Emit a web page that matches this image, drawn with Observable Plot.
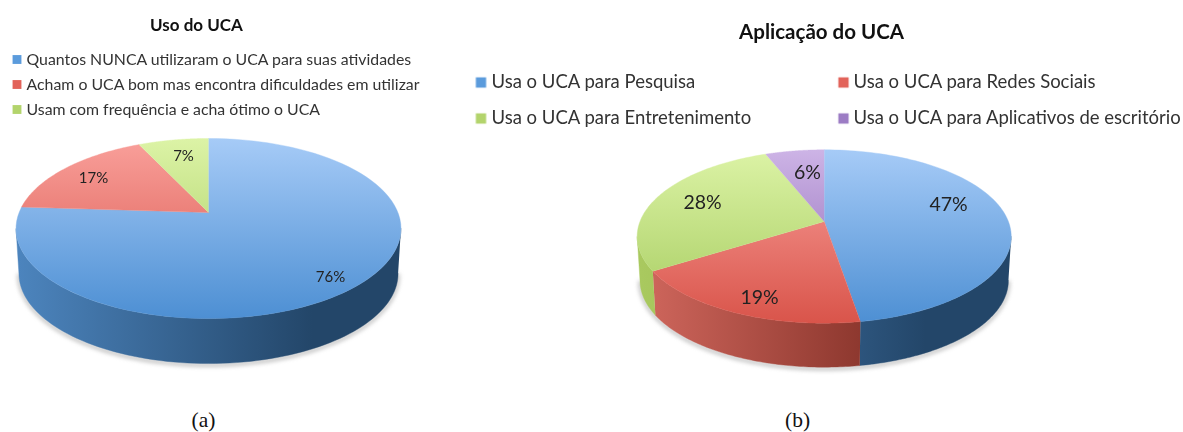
<!DOCTYPE html>
<html>
<head>
<meta charset="utf-8">
<script src="https://cdn.jsdelivr.net/npm/d3@7"></script>
<script src="https://cdn.jsdelivr.net/npm/@observablehq/plot@0.6"></script>
<style>html,body{margin:0;padding:0;background:#fff}svg{display:block}</style>
</head>
<body>
<div id="chart"></div>
<script>
// --- data ---
const titleA = "Uso do UCA";
const categoriesA = [
  "Quantos NUNCA utilizaram o UCA para suas atividades",
  "Acham o UCA bom mas encontra dificuldades em utilizar",
  "Usam com frequência e acha ótimo o UCA"
];
const valuesA = [76, 17, 7];
const colorsA = ["blue", "red", "green"];

const titleB = "Aplicação do UCA";
const categoriesB = [
  "Usa o UCA para Pesquisa",
  "Usa o UCA para Redes Sociais",
  "Usa o UCA para Entretenimento",
  "Usa o UCA para Aplicativos de escritório"
];
const valuesB = [47.4, 18.6, 28, 6];
const colorsB = ["blue", "red", "green", "purple"];

// --- styles ---
const palette = {
  blue:   {top: "#a6cbf7", bottom: "#4d8fd3", wallL: "#4c84bd", wallR: "#234669", swatch: "#5b9bdc"},
  red:    {top: "#f9a09b", bottom: "#d9544a", wallL: "#d0675d", wallR: "#7a2a21", swatch: "#e2635a"},
  green:  {top: "#dcf3a6", bottom: "#a5cb5e", wallL: "#a9c95f", wallR: "#86a644", swatch: "#b3d46c"},
  purple: {top: "#cdb4e6", bottom: "#8a62b2", wallL: "#8a62b2", wallR: "#6a4890", swatch: "#9c7cc4"}
};
const font = "Lato, 'Open Sans', sans-serif";

// --- layout (perspective ellipse of each pie) ---
const pieA = {id: "a", cx: 208, cy: 212, A: 189.4, a: 87.2, k: 0.178, depth: 45, shrink: 0.985, top: 138, bottom: 318};
const pieB = {id: "b", cx: 823.7, cy: 221, A: 184.2, a: 84.1, k: 0.173, depth: 44, shrink: 0.985, top: 149, bottom: 323};

const project = (p, share) => {
  const t = share * 2 * Math.PI;
  const u = Math.sin(t), v = Math.cos(t), d = 1 + p.k * v;
  return [p.cx + p.A * u / d, p.cy - p.a * v / d];
};
const lower = (p, q) => [p.cx + (q[0] - p.cx) * p.shrink, q[1] + p.depth];
const rightShare = p => 0.25 + Math.asin(p.k) / (2 * Math.PI);
const leftShare = p => 1 - rightShare(p);
const range = (a, b) => d3.range(0, 91).map(i => a + (b - a) * i / 90);

function slices(p, values, colors) {
  const total = d3.sum(values);
  let acc = 0;
  const faces = [], walls = [];
  values.forEach((v, i) => {
    const s0 = acc / total, s1 = (acc + v) / total;
    acc += v;
    const c = colors[i];
    faces.push({fill: `url(#face-${p.id}-${c})`, points: [[p.cx, p.cy], ...range(s0, s1).map(s => project(p, s))]});
    const w0 = Math.max(s0, rightShare(p)), w1 = Math.min(s1, leftShare(p));
    if (w1 > w0) {
      const arc = range(w0, w1).map(s => project(p, s));
      walls.push({
        fill: `url(#wall-${p.id}-${c})`, color: c, arc,
        points: [...arc, ...arc.slice().reverse().map(q => lower(p, q))]
      });
    }
  });
  return {faces, walls};
}

function defsMark(pies) {
  return () => {
    const defs = d3.create("svg:defs");
    for (const p of pies) {
      for (const [name, c] of Object.entries(palette)) {
        const f = defs.append("linearGradient").attr("id", `face-${p.id}-${name}`)
          .attr("gradientUnits", "userSpaceOnUse")
          .attr("x1", 0).attr("x2", 0).attr("y1", p.top).attr("y2", p.bottom);
        f.append("stop").attr("offset", 0).attr("stop-color", c.top);
        f.append("stop").attr("offset", 1).attr("stop-color", c.bottom);
        const w = defs.append("linearGradient").attr("id", `wall-${p.id}-${name}`)
          .attr("gradientUnits", "userSpaceOnUse")
          .attr("y1", 0).attr("y2", 0).attr("x1", p.cx - p.A).attr("x2", p.cx + p.A * 0.55);
        w.append("stop").attr("offset", 0).attr("stop-color", c.wallL);
        w.append("stop").attr("offset", 1).attr("stop-color", c.wallR);
      }
    }
    return defs.node();
  };
}

function pieMarks(p, values, colors) {
  const {faces, walls} = slices(p, values, colors);
  const marks = [];
  const shadow = range(rightShare(p), leftShare(p)).map(s => lower(p, project(p, s)));
  marks.push(Plot.line(shadow, {x: d => d[0], y: d => d[1] + 1.5, stroke: "#777", strokeWidth: 3, strokeOpacity: 0.55, imageFilter: "blur(2px)"}));
  for (const w of walls) marks.push(Plot.line(w.points, {x: d => d[0], y: d => d[1], fill: w.fill, stroke: w.fill, strokeWidth: 0.4}));
  for (const f of faces) marks.push(Plot.line(f.points, {x: d => d[0], y: d => d[1], fill: f.fill, stroke: f.fill, strokeWidth: 0.4}));
  return marks;
}

const soft = "blur(0.45px)";
const legendRows = (names, colors, rows) => names.map((name, i) => ({name, color: palette[colors[i]].swatch, ...rows[i]}));
const legendA = legendRows(categoriesA, colorsA, [{sx: 16.5, tx: 26, y: 59}, {sx: 16.5, tx: 26, y: 84}, {sx: 16.5, tx: 26, y: 109}]);
const legendB = legendRows(categoriesB, colorsB, [{sx: 480.5, tx: 491, y: 82}, {sx: 843, tx: 853, y: 82}, {sx: 480.5, tx: 491, y: 118}, {sx: 843, tx: 853, y: 118}]);

const labelsA = valuesA.map((v, i) => ({t: `${Math.round(v)}%`, ...[{x: 330, y: 277}, {x: 93, y: 178}, {x: 183, y: 156}][i]}));
const labelsB = valuesB.map((v, i) => ({t: `${Math.round(v)}%`, ...[{x: 948, y: 204}, {x: 759, y: 297}, {x: 702, y: 202}, {x: 807, y: 172}][i]}));

const text = (rows, o) => Plot.text(rows, {x: "x", y: "y", text: "t", fontFamily: font, lineAnchor: "middle", fill: "#222", imageFilter: soft, ...o});

const chart = Plot.plot({
  width: 1183, height: 432,
  margin: 0,
  style: {background: "#fff"},
  x: {domain: [0, 1183], range: [0, 1183], axis: null},
  y: {domain: [0, 432], range: [0, 432], axis: null},
  marks: [
    defsMark([pieA, pieB]),
    ...pieMarks(pieA, valuesA, colorsA),
    ...pieMarks(pieB, valuesB, colorsB),
    text(labelsA, {fontSize: 15}),
    text(labelsB, {fontSize: 19.5}),
    text([{t: titleA, x: 196, y: 25}], {fontSize: 17, fontWeight: 700, fill: "#111"}),
    text([{t: titleB, x: 821, y: 32}], {fontSize: 20.5, fontWeight: 700, fill: "#111"}),
    Plot.dot(legendA, {x: "sx", y: "y", symbol: "square", r: 5, fill: "color", imageFilter: soft}),
    Plot.dot(legendB, {x: "sx", y: "y", symbol: "square", r: 5.8, fill: "color", imageFilter: soft}),
    Plot.text(legendA, {x: "tx", y: "y", text: "name", textAnchor: "start", fontFamily: font, fontSize: 15.85, fill: "#333", imageFilter: soft}),
    Plot.text(legendB, {x: "tx", y: "y", text: "name", textAnchor: "start", fontFamily: font, fontSize: 18.5, fill: "#333", imageFilter: soft}),
    Plot.text([{t: "(a)", x: 203, y: 420}, {t: "(b)", x: 797, y: 420}], {x: "x", y: "y", text: "t", fontFamily: "'Liberation Serif', serif", fontSize: 21.5, fill: "#111"})
  ]
});
document.getElementById("chart").append(chart);
</script>
</body>
</html>
